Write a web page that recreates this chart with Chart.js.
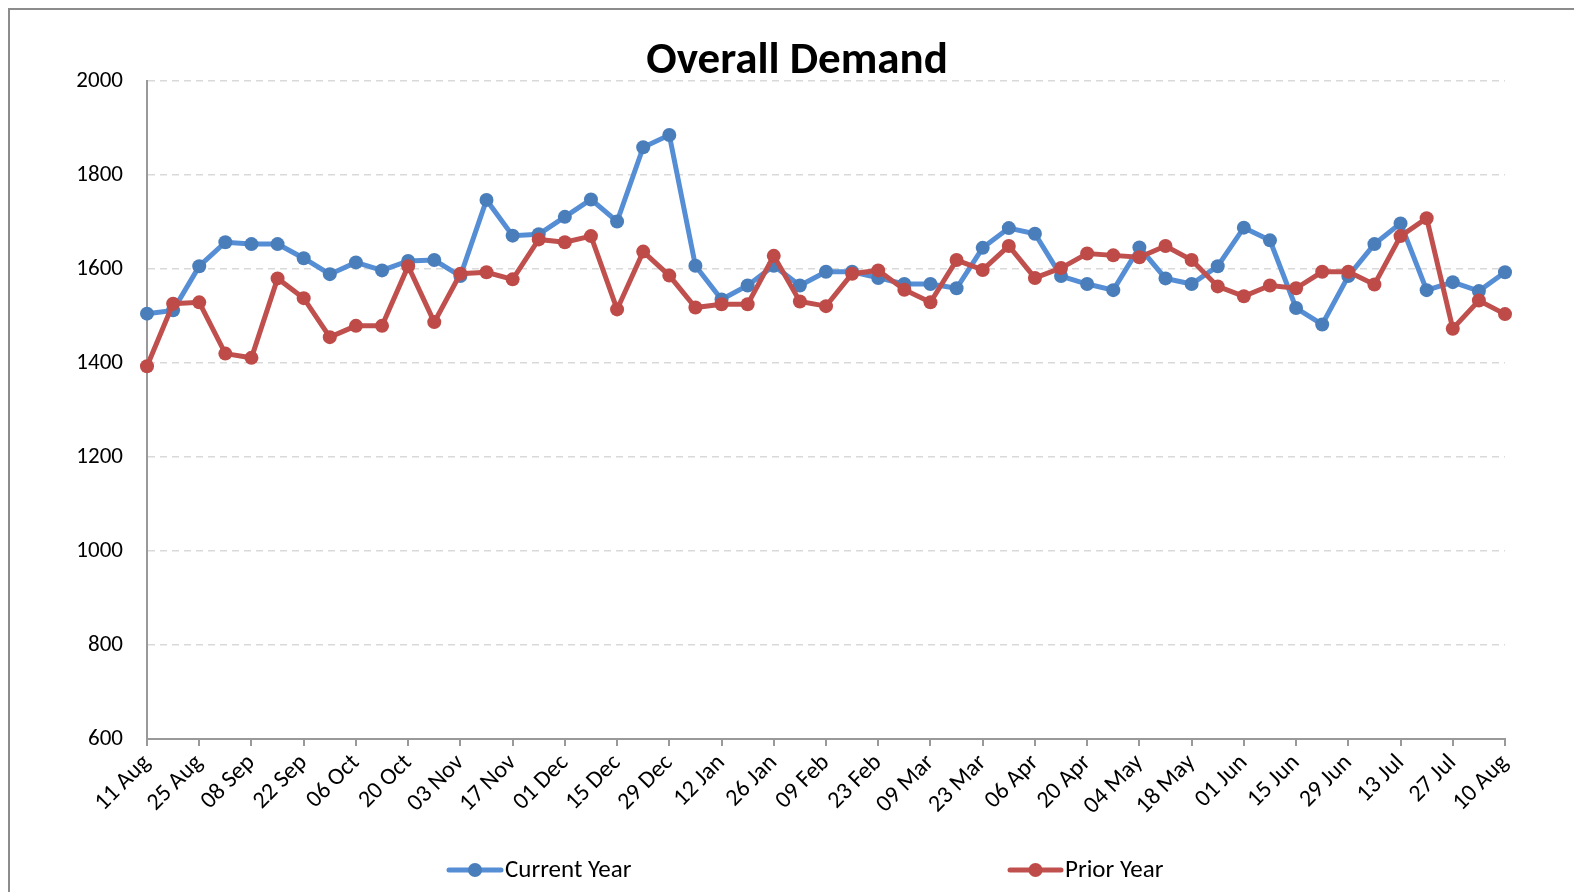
<!DOCTYPE html>
<html>
<head>
<meta charset="utf-8">
<script src="https://cdn.jsdelivr.net/npm/chart.js@4"></script>
<style>
  html, body { margin: 0; padding: 0; background: #fff; }
  #wrap { position: relative; width: 1574px; height: 892px; }
</style>
</head>
<body>
<div id="wrap"><canvas id="c" width="1574" height="892"></canvas></div>
<script>
const chartTitle = 'Overall Demand';
const weeks = ['11 Aug','18 Aug','25 Aug','01 Sep','08 Sep','15 Sep','22 Sep','29 Sep','06 Oct','13 Oct',
  '20 Oct','27 Oct','03 Nov','10 Nov','17 Nov','24 Nov','01 Dec','08 Dec','15 Dec','22 Dec',
  '29 Dec','05 Jan','12 Jan','19 Jan','26 Jan','02 Feb','09 Feb','16 Feb','23 Feb','02 Mar',
  '09 Mar','16 Mar','23 Mar','30 Mar','06 Apr','13 Apr','20 Apr','27 Apr','04 May','11 May',
  '18 May','25 May','01 Jun','08 Jun','15 Jun','22 Jun','29 Jun','06 Jul','13 Jul','20 Jul',
  '27 Jul','03 Aug','10 Aug'];
const currentYear = [1505,1512,1606,1657,1653,1653,1623,1589,1614,1597,
  1617,1619,1585,1747,1671,1674,1711,1748,1701,1859,
  1885,1607,1535,1565,1607,1565,1594,1594,1581,1568,
  1568,1559,1645,1687,1675,1585,1568,1555,1646,1580,
  1568,1606,1688,1661,1517,1482,1585,1653,1697,1555,
  1572,1553,1593];
const priorYear = [1393,1526,1529,1420,1411,1580,1538,1455,1479,1479,
  1606,1487,1590,1593,1578,1663,1657,1670,1514,1637,
  1586,1518,1525,1525,1628,1531,1521,1590,1597,1556,
  1529,1619,1598,1649,1581,1602,1633,1629,1625,1649,
  1619,1563,1542,1565,1559,1594,1594,1567,1670,1708,
  1473,1533,1504];
const yMin = 600, yMax = 2000, yStep = 200;

const FONT = 'Carlito, Calibri, Lato, sans-serif';
Chart.defaults.font.family = FONT;
Chart.defaults.color = '#000';

const legendPos = [
  { x1: 449, x2: 501, tx: 505 },
  { x1: 1010, x2: 1061, tx: 1065 }
];
const decor = {
  id: 'decor',
  beforeDraw(chart) {
    const ctx = chart.ctx;
    ctx.save();
    ctx.strokeStyle = '#8c8c8c';
    ctx.lineWidth = 2;
    ctx.beginPath();
    ctx.moveTo(9, 900); ctx.lineTo(9, 9); ctx.lineTo(1580, 9);
    ctx.stroke();
    ctx.restore();
  },
  afterDraw(chart) {
    const ctx = chart.ctx;
    ctx.save();
    ctx.fillStyle = '#000';
    ctx.font = 'bold 45px ' + FONT;
    ctx.textAlign = 'center';
    ctx.textBaseline = 'middle';
    ctx.fillText(chartTitle, 797, 62);
    ctx.font = '25px ' + FONT;
    ctx.textAlign = 'left';
    chart.data.datasets.forEach((ds, i) => {
      const p = legendPos[i];
      const y = 870;
      ctx.strokeStyle = ds.borderColor;
      ctx.lineWidth = 5;
      ctx.lineCap = 'round';
      ctx.beginPath(); ctx.moveTo(p.x1, y); ctx.lineTo(p.x2, y); ctx.stroke();
      ctx.fillStyle = ds.pointBackgroundColor;
      ctx.beginPath(); ctx.arc((p.x1 + p.x2) / 2, y, 7, 0, Math.PI * 2); ctx.fill();
      ctx.fillStyle = '#000';
      ctx.fillText(ds.label, p.tx, y + 1);
    });
    ctx.restore();
  }
};

new Chart(document.getElementById('c'), {
  type: 'line',
  data: {
    labels: weeks,
    datasets: [
      { label: 'Current Year', data: currentYear, borderColor: '#558ed5', backgroundColor: '#4a7ebb',
        pointBackgroundColor: '#4a7ebb', pointBorderWidth: 0, pointRadius: 7, borderWidth: 5,
        tension: 0, order: 1, clip: false },
      { label: 'Prior Year', data: priorYear, borderColor: '#c0504d', backgroundColor: '#be4b48',
        pointBackgroundColor: '#be4b48', pointBorderWidth: 0, pointRadius: 7, borderWidth: 5,
        tension: 0, order: 0, clip: false }
    ]
  },
  options: {
    responsive: false,
    animation: false,
    layout: { padding: { left: 0, right: 69, top: 81, bottom: 0 } },
    plugins: { legend: { display: false }, title: { display: false }, tooltip: { enabled: false } },
    scales: {
      x: {
        offset: false,
        grid: {
          drawOnChartArea: false, drawTicks: true, tickLength: 7,
          color: c => (c.index % 2 === 0 ? '#999' : 'rgba(0,0,0,0)'),
          tickColor: c => (c.index % 2 === 0 ? '#999' : 'rgba(0,0,0,0)'),
          lineWidth: 2, tickWidth: 2
        },
        border: { color: '#999', width: 2 },
        ticks: {
          autoSkip: false, maxRotation: 45, minRotation: 45, padding: 3,
          font: { size: 24 },
          callback: function (v, i) { return i % 2 === 0 ? this.getLabelForValue(v) : ''; }
        },
        afterFit: s => { s.height = 892 - 739; }
      },
      y: {
        min: yMin, max: yMax,
        grid: { color: '#d9d9d9', lineWidth: 1.5, drawTicks: false },
        border: { color: '#999', width: 2, dash: [7, 5] },
        ticks: { stepSize: yStep, padding: 24, font: { size: 23 }, callback: v => String(v) },
        afterFit: s => { s.width = 147; }
      }
    }
  },
  plugins: [decor]
});
</script>
</body>
</html>
